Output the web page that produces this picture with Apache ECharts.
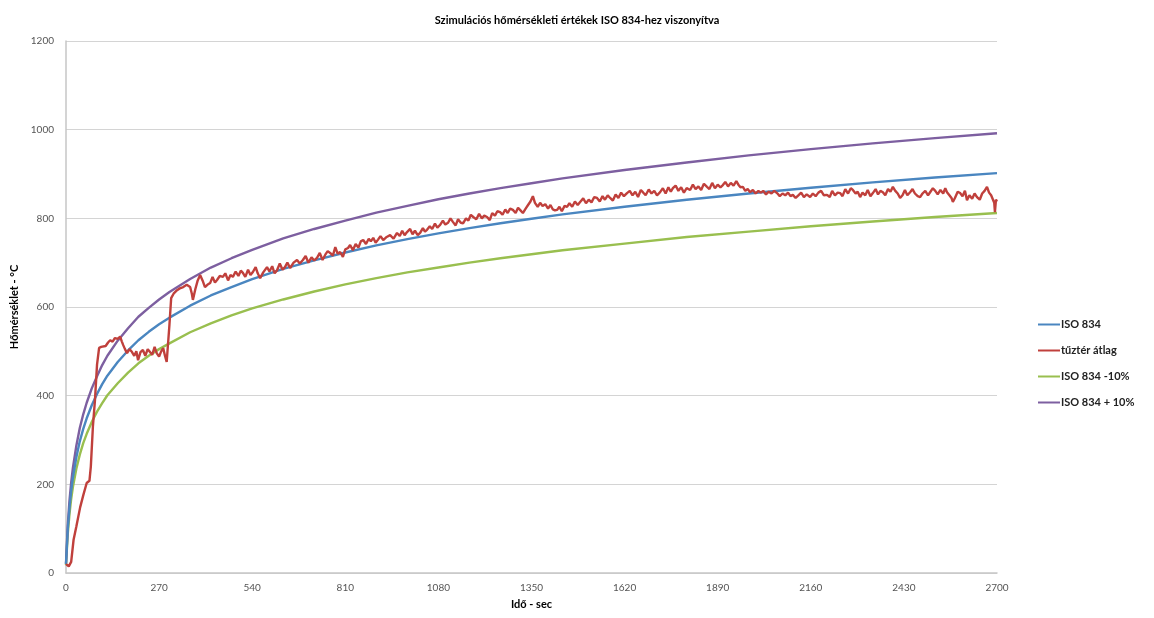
<!doctype html>
<html lang="hu">
<head>
<meta charset="UTF-8">
<title>Szimulációs hőmérsékleti értékek</title>
<style>
  html, body { margin: 0; padding: 0; background: #fff; }
  #main { width: 1154px; height: 618px; }
</style>
</head>
<body>
<div id="main"></div>
<script src="https://cdn.jsdelivr.net/npm/echarts@6/dist/echarts.min.js"></script>
<script>
// idő (sec) a szabványos görbékhez
var isoTimes = [0, 5, 10, 15, 20, 30, 40, 50, 60, 75, 90, 105, 120, 150, 180, 210, 240, 270, 300,
    360, 420, 480, 540, 630, 720, 810, 900, 990, 1080, 1170, 1260, 1350, 1440, 1620, 1800, 1980,
    2160, 2340, 2520, 2700];
var iso834 = [20, 97, 147, 185, 215, 261, 297, 325, 349, 379, 404, 426, 445, 476, 502, 525, 544, 561, 576,
    603, 626, 645, 663, 686, 705, 723, 739, 753, 766, 778, 789, 799, 809, 826, 842, 856,
    869, 881, 892, 902];
var isoMinus10 = [18, 87, 132, 167, 194, 235, 267, 293, 314, 341, 364, 383, 401, 428, 452, 473, 490, 505, 518,
    543, 563, 581, 597, 617, 635, 651, 665, 678, 689, 700, 710, 719, 728, 743, 758, 770,
    782, 793, 803, 812];
var isoPlus10 = [22, 107, 162, 204, 237, 287, 327, 358, 384, 417, 444, 469, 490, 524, 552, 578, 598, 617, 634,
    663, 689, 710, 729, 755, 776, 795, 813, 828, 843, 856, 868, 879, 890, 909, 926, 942,
    956, 969, 981, 992];

// tűztér átlag: [idő, hőmérséklet]
var tuzterAtlag = [
    [0,20],[8,15],[15,25],[22,75],[30,105],[41,148],[50,175],[60,203],[68,208],[72,240],[78,330],[84,390],
    [90,470],[96,508],[102,510],[107,514],[115,512],[122,520],[128,525],[135,522],[142,530],[150,528],
    [157,533],[162,522],[166,514],[171,505],[177,496],[184,505],[191,499],[198,490],[204,500],[209,480],
    [216,498],[223,503],[230,490],[237,505],[243,499],[250,492],[257,510],[263,496],[270,488],[276,500],
    [282,507],[287,490],[292,476],[296,472],[300,560],[305,620],[312,630],[322,638],[330,642],[340,645],
    [350,650],[360,645],[365,630],[368,616],[375,640],[382,660],[389,672],[396,660],[403,645],[410,650],
    [418,654],[425,668],[432,655],[438,661],[446,670],[455,668],[462,676],[470,660],[477,672],[484,668],
    [492,680],[500,670],[507,682],[513,677],[520,668],[528,684],[535,672],[542,679],[550,690],[556,676],
    [563,665],[572,678],[583,690],[590,680],[598,692],[605,676],[612,683],[620,698],[628,684],[635,690],
    [642,700],[650,688],[660,700],[670,706],[678,698],[687,706],[695,715],[703,700],[712,712],[720,705],
    [728,711],[736,722],[744,706],[752,718],[759,726],[766,722],[774,716],[781,735],[788,720],[795,724],
    [803,713],[810,730],[818,733],[824,740],[832,728],[840,742],[848,734],[855,748],[862,751],[870,742],
    [878,754],[884,748],[891,756],[898,745],[905,752],[912,760],[920,751],[930,758],[940,762],[950,754],
    [960,767],[968,760],[975,772],[982,762],[989,769],[998,776],[1005,764],[1012,772],[1020,762],[1027,767],
    [1035,778],[1041,770],[1047,774],[1055,782],[1062,776],[1070,788],[1077,779],[1085,785],[1093,795],
    [1100,786],[1108,790],[1115,800],[1122,792],[1130,784],[1137,798],[1145,790],[1152,789],[1160,800],
    [1167,795],[1174,808],[1181,803],[1190,798],[1198,810],[1206,800],[1213,806],[1221,803],[1229,796],
    [1236,812],[1244,806],[1251,816],[1259,814],[1266,808],[1274,820],[1281,812],[1288,822],[1296,819],
    [1304,812],[1311,824],[1318,818],[1325,812],[1333,822],[1340,830],[1347,838],[1354,850],[1360,835],
    [1368,826],[1375,835],[1382,828],[1390,832],[1398,822],[1405,830],[1412,820],[1418,818],[1424,819],
    [1431,826],[1438,816],[1446,828],[1453,826],[1460,834],[1468,826],[1476,838],[1484,830],[1491,837],
    [1500,845],[1508,834],[1516,842],[1524,836],[1532,848],[1540,846],[1548,838],[1556,850],[1563,842],
    [1571,852],[1578,846],[1586,840],[1594,854],[1602,846],[1610,858],[1618,850],[1627,857],[1635,862],
    [1643,852],[1651,860],[1659,848],[1667,864],[1673,859],[1681,852],[1690,865],[1698,856],[1706,862],
    [1714,852],[1723,859],[1731,868],[1739,856],[1747,870],[1754,860],[1760,868],[1768,874],[1776,862],
    [1784,870],[1792,858],[1800,868],[1810,864],[1818,876],[1826,866],[1834,872],[1842,864],[1850,878],
    [1859,871],[1866,866],[1874,880],[1882,868],[1890,876],[1898,870],[1905,875],[1912,882],[1920,872],
    [1928,880],[1936,874],[1944,884],[1950,876],[1956,870],[1963,871],[1970,862],[1977,866],[1984,859],
    [1992,864],[2000,856],[2008,862],[2015,858],[2022,862],[2030,854],[2038,860],[2046,856],[2054,862],
    [2062,857],[2070,850],[2078,856],[2086,852],[2094,858],[2101,850],[2108,853],[2116,846],[2124,852],
    [2132,858],[2140,848],[2148,854],[2158,848],[2166,856],[2174,850],[2182,858],[2190,862],[2198,852],
    [2207,853],[2215,848],[2222,862],[2230,852],[2238,858],[2245,857],[2252,850],[2260,866],[2268,856],
    [2276,868],[2282,864],[2290,856],[2296,860],[2303,848],[2310,858],[2318,852],[2325,864],[2333,850],
    [2340,857],[2348,866],[2355,854],[2362,862],[2369,859],[2376,852],[2384,866],[2391,860],[2398,871],
    [2405,862],[2412,856],[2419,846],[2426,852],[2433,864],[2440,852],[2448,859],[2455,866],[2462,856],
    [2470,850],[2477,848],[2484,856],[2492,862],[2500,852],[2507,860],[2514,868],[2521,862],[2528,854],
    [2536,864],[2544,856],[2550,868],[2555,859],[2562,852],[2568,846],[2572,837],[2578,846],[2586,860],
    [2593,857],[2600,850],[2607,862],[2613,841],[2620,852],[2628,844],[2635,856],[2642,848],[2650,842],
    [2657,856],[2664,862],[2671,871],[2677,858],[2683,852],[2688,848],[2692,835],[2694,814],[2697,842],
    [2700,838]
];

var xTicks = [0, 270, 540, 810, 1080, 1350, 1620, 1890, 2160, 2430, 2700];
var yTicks = [0, 200, 400, 600, 800, 1000, 1200];

function pairs(times, vals) {
    return times.map(function (t, i) { return [t, vals[i]]; });
}

var font = 'Lato, "Open Sans", sans-serif';
var chart = echarts.init(document.getElementById('main'));

var option = {
    animation: false,
    textStyle: { fontFamily: font },
    title: {
        text: 'Szimulációs hőmérsékleti értékek ISO 834-hez viszonyítva',
        left: 'center',
        top: 10,
        textStyle: { fontSize: 11, fontWeight: 'bold', color: '#000', fontFamily: font }
    },
    legend: {
        orient: 'vertical',
        left: 1033,
        top: 314,
        itemWidth: 22,
        itemHeight: 12,
        itemGap: 15,
        icon: 'path://M0,5 L22,5 L22,7 L0,7 Z',
        textStyle: { fontSize: 11, fontWeight: 'bold', color: '#222', fontFamily: font, padding: [0, 0, 0, -4] },
        data: ['ISO 834', 'tűztér átlag', 'ISO 834 -10%', 'ISO 834 + 10%']
    },
    grid: { left: 66, right: 157, top: 41, bottom: 45 },
    xAxis: {
        type: 'value',
        min: xTicks[0],
        max: xTicks[xTicks.length - 1],
        interval: 270,
        name: 'Idő - sec',
        nameLocation: 'middle',
        nameGap: 26,
        nameTextStyle: { fontSize: 11, fontWeight: 'bold', color: '#000' },
        axisLine: { lineStyle: { color: '#c6c6c6', width: 1.5 } },
        axisTick: { show: false },
        axisLabel: { fontSize: 10, color: '#555', margin: 10, formatter: function (v) { return String(v); } },
        splitLine: { show: false }
    },
    yAxis: {
        type: 'value',
        min: yTicks[0],
        max: yTicks[yTicks.length - 1],
        interval: 200,
        name: 'Hőmérséklet - °C',
        nameLocation: 'middle',
        nameGap: 40,
        nameTextStyle: { fontSize: 11, fontWeight: 'bold', color: '#000' },
        axisLine: { show: true, lineStyle: { color: '#c6c6c6', width: 1.5 } },
        axisTick: { show: false },
        axisLabel: { fontSize: 10, color: '#555', margin: 12, formatter: function (v) { return String(v); } },
        splitLine: { lineStyle: { color: '#d4d4d4', width: 1.2 } }
    },
    series: [
        {
            name: 'ISO 834', type: 'line', showSymbol: false, z: 3,
            data: pairs(isoTimes, iso834),
            lineStyle: { color: '#4a86c0', width: 2.4 }, itemStyle: { color: '#4a86c0' }
        },
        {
            name: 'tűztér átlag', type: 'line', showSymbol: false, z: 4,
            data: tuzterAtlag,
            lineStyle: { color: '#c0403c', width: 2.4 }, itemStyle: { color: '#c0403c' }
        },
        {
            name: 'ISO 834 -10%', type: 'line', showSymbol: false, z: 2,
            data: pairs(isoTimes, isoMinus10),
            lineStyle: { color: '#99bf4f', width: 2.4 }, itemStyle: { color: '#99bf4f' }
        },
        {
            name: 'ISO 834 + 10%', type: 'line', showSymbol: false, z: 2,
            data: pairs(isoTimes, isoPlus10),
            lineStyle: { color: '#7d5fa0', width: 2.4 }, itemStyle: { color: '#7d5fa0' }
        }
    ]
};

chart.setOption(option);
</script>
</body>
</html>
